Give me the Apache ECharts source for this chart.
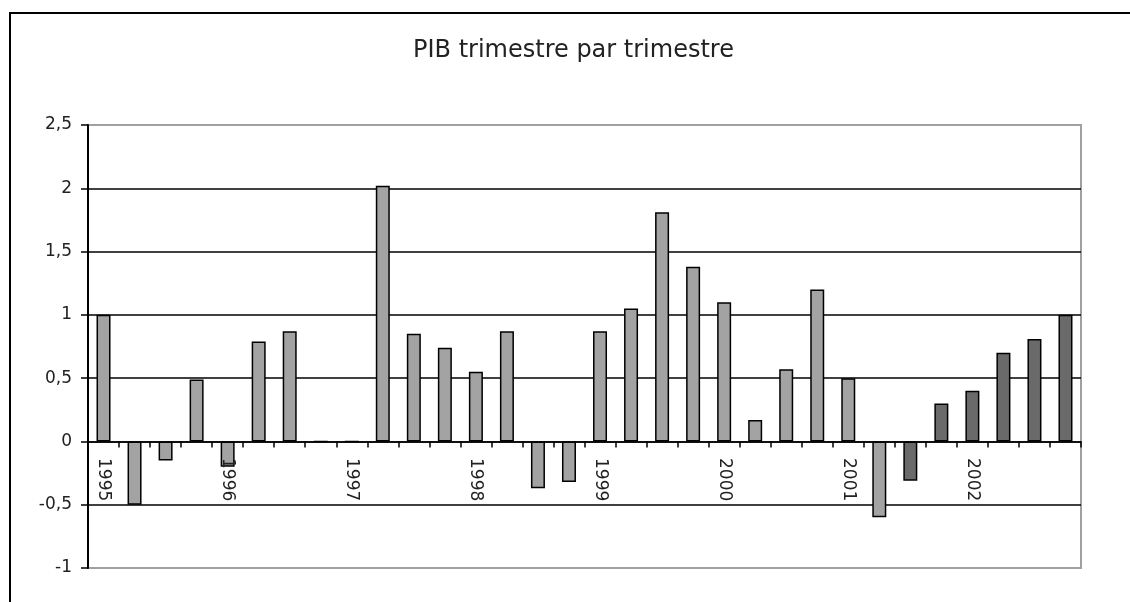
<!DOCTYPE html>
<html>
<head>
<meta charset="utf-8">
<script src="https://cdn.jsdelivr.net/npm/echarts@6/dist/echarts.min.js"></script>
<style>
  html, body { margin: 0; padding: 0; background: #fff; }
  #chart { width: 1130px; height: 602px; }
</style>
</head>
<body>
<div id="chart"></div>
<script>
// années et trimestres
var years = ['1995', '1996', '1997', '1998', '1999', '2000', '2001', '2002'];
var quarters = ['T1', 'T2', 'T3', 'T4'];
// PIB, variation trimestre par trimestre (%)
var pib = [
  1.0, -0.5, -0.15, 0.49,
  -0.2, 0.79, 0.87, 0,
  0, 2.02, 0.85, 0.74,
  0.55, 0.87, -0.37, -0.32,
  0.87, 1.05, 1.81, 1.38,
  1.1, 0.17, 0.57, 1.2,
  0.5, -0.6, -0.31, 0.3,
  0.4, 0.7, 0.81, 1.0
];
// a partir de cet index les barres sont plus foncees
var darkFrom = 26;

var categories = [];
years.forEach(function (y) {
  quarters.forEach(function (q) { categories.push(y + ' ' + q); });
});

var chart = echarts.init(document.getElementById('chart'));
var font = 'DejaVu Sans';

var option = {
  backgroundColor: '#fff',
  animation: false,
  title: {
    text: 'PIB trimestre par trimestre',
    left: 408,
    top: 34,
    textStyle: { fontFamily: font, fontSize: 24, fontWeight: 'normal', color: '#222' }
  },
  graphic: [{
    type: 'polyline',
    shape: { points: [[10, 602], [10, 13], [1130, 13]] },
    style: { stroke: '#000', lineWidth: 2, fill: null }
  }],
  grid: {
    left: 88, right: 49, top: 125, bottom: 34,
    outerBoundsMode: 'none',
    containLabel: false,
    show: true,
    borderColor: '#a0a0a0',
    borderWidth: 2
  },
  xAxis: {
    type: 'category',
    data: categories,
    z: 3,
    axisLine: { onZero: true, lineStyle: { color: '#000', width: 1.5 } },
    axisTick: { show: true, inside: false, length: 6, alignWithLabel: false, interval: 0, lineStyle: { color: '#000', width: 1.5 } },
    axisLabel: {
      interval: 3,
      rotate: -90,
      // les libellés restent collés à la ligne du zéro
      margin: -110,
      fontFamily: font,
      fontSize: 17,
      color: '#222',
      formatter: function (v) { return v.split(' ')[0]; }
    },
    splitLine: { show: false }
  },
  yAxis: {
    type: 'value',
    min: -1,
    max: 2.5,
    interval: 0.5,
    axisLine: { show: true, lineStyle: { color: '#000', width: 2 } },
    axisTick: { show: true, length: 7, lineStyle: { color: '#000', width: 1.5 } },
    axisLabel: {
      margin: 16,
      fontFamily: font,
      fontSize: 17,
      color: '#222',
      formatter: function (v) { return String(v).replace('.', ','); }
    },
    splitLine: {
      show: true,
      lineStyle: {
        color: ['#a0a0a0', '#000', '#000', '#000', '#000', '#000', '#000', '#a0a0a0'],
        width: 1.5
      }
    }
  },
  series: [{
    type: 'bar',
    data: pib,
    barWidth: 14,
    itemStyle: {
      color: function (p) { return p.dataIndex >= darkFrom ? '#6a6a6a' : '#a3a3a3'; },
      borderColor: '#000',
      borderWidth: 1.5
    }
  }]
};

chart.setOption(option);
</script>
</body>
</html>
